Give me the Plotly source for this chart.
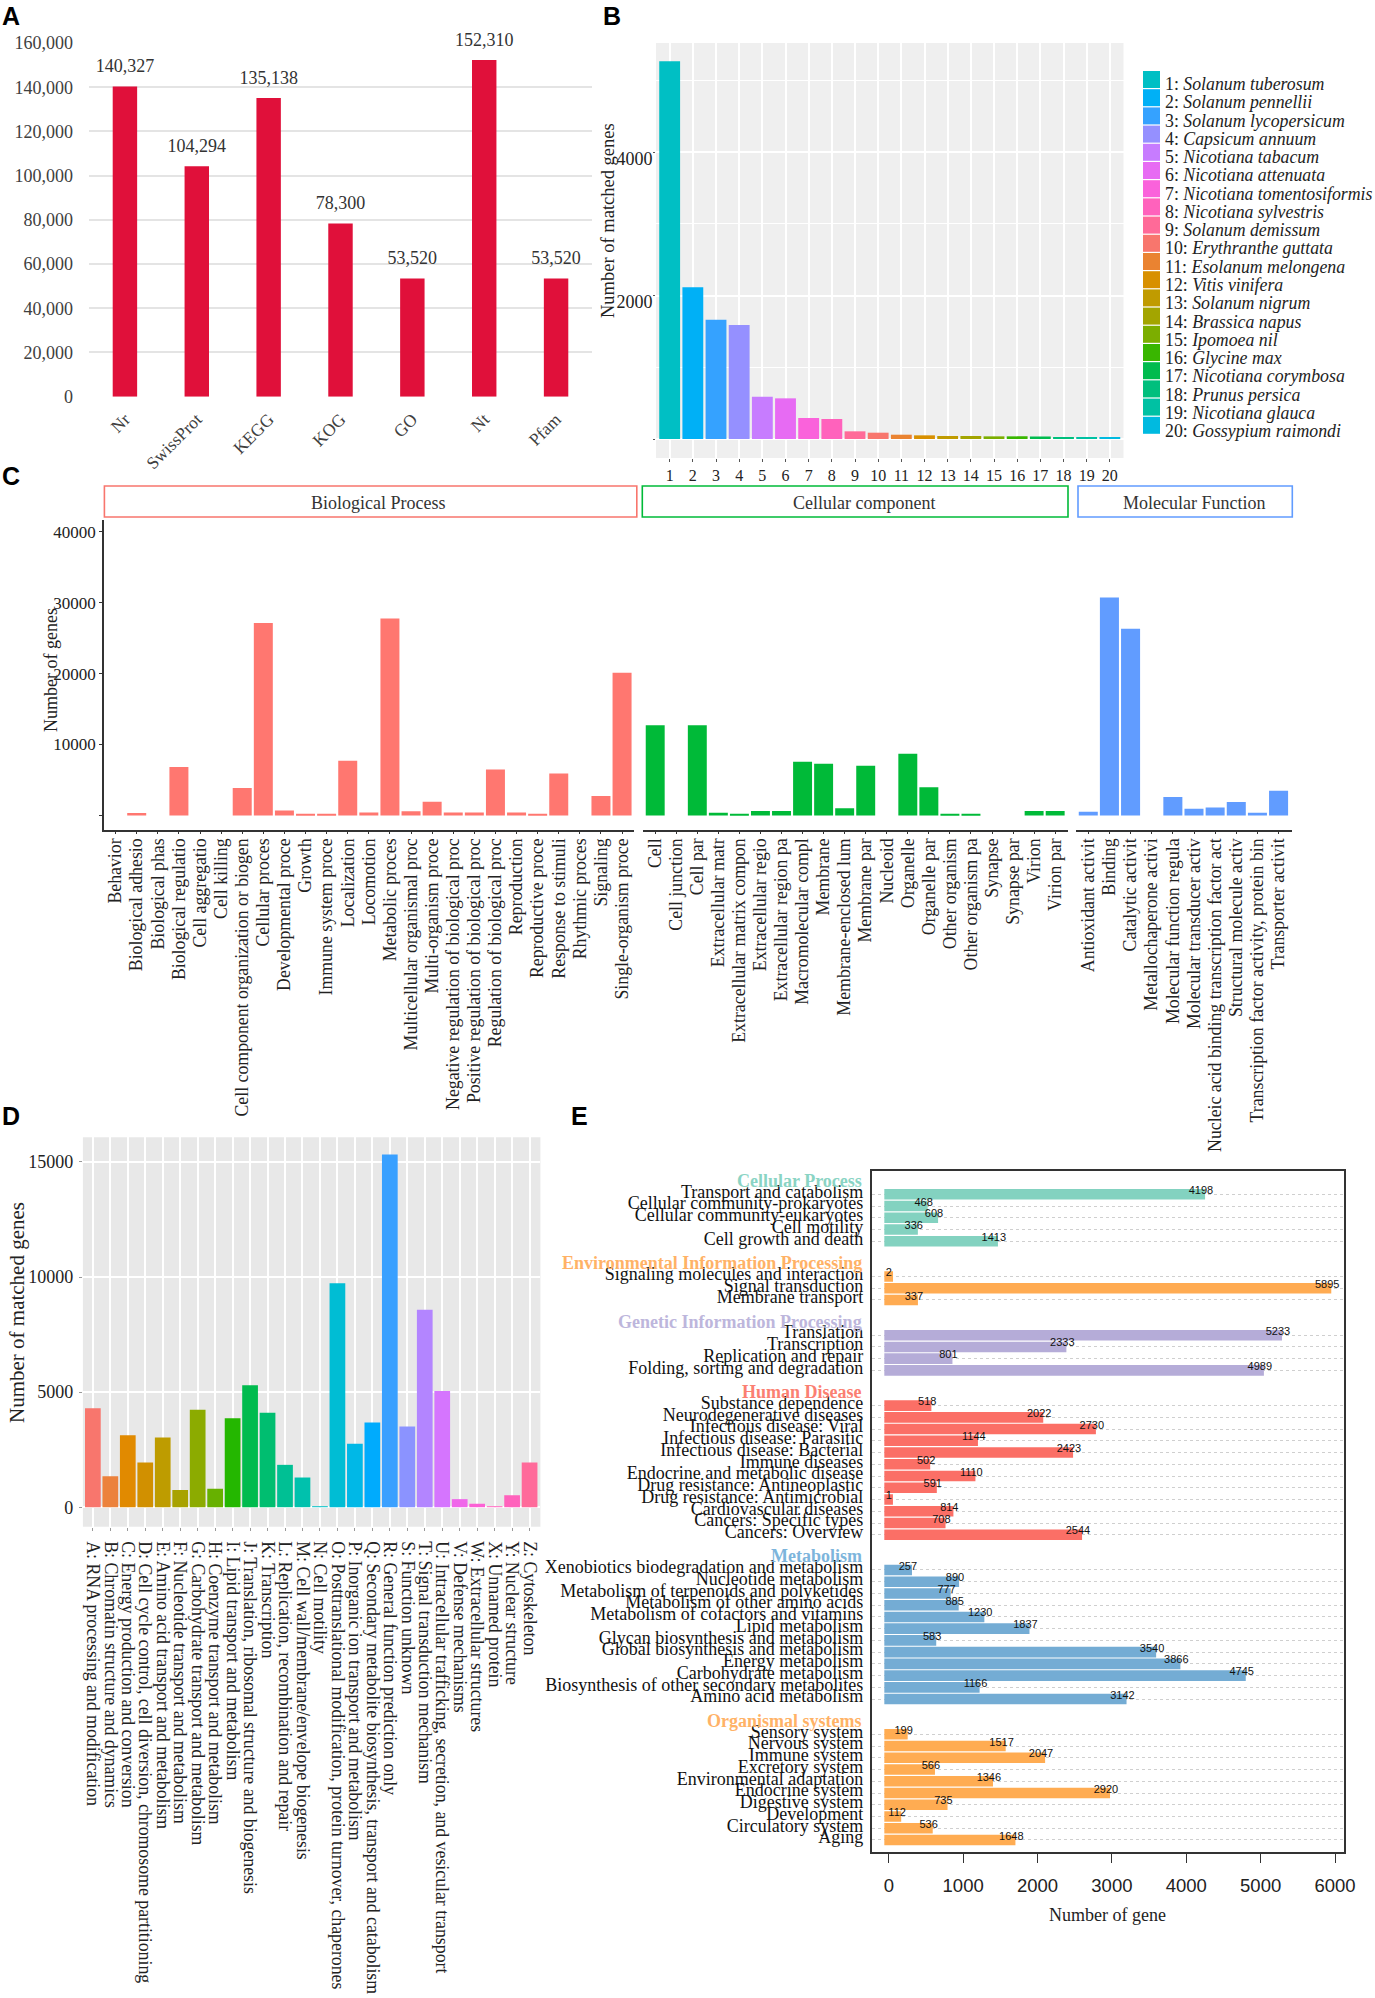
import plotly.graph_objects as go

W, H = 1375, 1998
SERIF = "Liberation Serif"
SANS = "Liberation Sans"

# Panel A
a_names = ["Nr", "SwissProt", "KEGG", "KOG", "GO", "Nt", "Pfam"]
a_values = [140327, 104294, 135138, 78300, 53520, 152310, 53520]

# Panel B
b_species = ["Solanum tuberosum", "Solanum pennellii", "Solanum lycopersicum", "Capsicum annuum",
             "Nicotiana tabacum", "Nicotiana attenuata", "Nicotiana tomentosiformis", "Nicotiana sylvestris",
             "Solanum demissum", "Erythranthe guttata", "Esolanum melongena", "Vitis vinifera",
             "Solanum nigrum", "Brassica napus", "Ipomoea nil", "Glycine max",
             "Nicotiana corymbosa", "Prunus persica", "Nicotiana glauca", "Gossypium raimondi"]
b_values = [5267, 2116, 1664, 1590, 590, 567, 293, 279, 107, 88, 60, 51, 42, 42, 37, 37, 35, 28, 28, 26]
b_colors = ["#00BFC4", "#00B0F6", "#35A2FF", "#9590FF", "#C77CFF", "#E76BF3", "#FA62DB", "#FF62BC",
            "#FF6A98", "#F8766D", "#EA8331", "#D89000", "#C09B00", "#A3A500", "#7CAE00", "#39B600",
            "#00BB4E", "#00BF7D", "#00C1A3", "#00BAE0"]

# Panel C (labels are cut off in the source figure)
bp_names = ["Behavior", "Biological adhesio", "Biological phas", "Biological regulatio", "Cell aggregatio",
            "Cell killing", "Cell component organization or biogen", "Cellular proces", "Developmental proce",
            "Growth", "Immune system proce", "Localization", "Locomotion", "Metabolic proces",
            "Multicellular organismal proc", "Multi-organism proce", "Negative regulation of biological proc",
            "Positive regulation of biological proc", "Regulation of biological proc", "Reproduction",
            "Reproductive proce", "Response to stimuli", "Rhythmic proces", "Signaling", "Single-organism proce"]
bp_values = [0, 350, 0, 6840, 0, 0, 3860, 27130, 700, 120, 230, 7720, 410, 27780, 580, 1930, 410, 410,
             6490, 410, 230, 5900, 0, 2750, 20120]
cc_names = ["Cell", "Cell junction", "Cell par", "Extracellular matr", "Extracellular matrix compon",
            "Extracellular regio", "Extracellular region pa", "Macromolecular compl", "Membrane",
            "Membrane-enclosed lum", "Membrane par", "Nucleoid", "Organelle", "Organelle par", "Other organism",
            "Other organism pa", "Synapse", "Synapse par", "Virion", "Virion par"]
cc_values = [12720, 0, 12720, 380, 190, 630, 630, 7560, 7300, 1010, 6990, 0, 8690, 3970, 130, 130, 0, 0, 630, 630]
mf_names = ["Antioxidant activit", "Binding", "Catalytic activit", "Metallochaperone activi",
            "Molecular function regula", "Molecular transducer activ", "Nucleic acid binding transcription factor act",
            "Structural molecule activ", "Transcription factor activity, protein bin", "Transporter activit"]
mf_values = [500, 30730, 26320, 0, 2580, 940, 1130, 1890, 380, 3460]

# Panel D
d_names = ["A: RNA processing and modification", "B: Chromatin structure and dynamics",
           "C: Energy production and conversion", "D: Cell cycle control, cell diversion, chromosome partitioning",
           "E: Amino acid transport and metabolism", "F: Nucleotide transport and metabolism",
           "G: Carbohydrate transport and metabolism", "H: Coenzyme transport and metabolism",
           "I: Lipid transport and metabolism", "J: Translation, ribosomal structure and biogenesis",
           "K: Transcription", "L: Replication, recombination and repair",
           "M: Cell wall/membrane/envelope biogenesis", "N: Cell motility",
           "O: Posttranslational modification, protein turnover, chaperones",
           "P: Inorganic ion transport and metabolism", "Q: Secondary metabolite biosynthesis, transport and catabolism",
           "R: General function prediction only", "S: Function unknown", "T: Signal transduction mechanism",
           "U: Intracellular trafficking, secretion, and vesicular transport", "V: Defense mechanisms",
           "W: Extracellular structures", "X: Unnamed protein", "Y: Nuclear structure", "Z: Cytoskeleton"]
d_values = [4300, 1340, 3130, 1940, 3030, 750, 4230, 800, 3860, 5300, 4100, 1840, 1290, 30, 9730, 2760,
            3680, 15320, 3510, 8580, 5050, 350, 150, 5, 520, 1940]
d_colors = ["#F8766D", "#EC823C", "#E18A00", "#D19000", "#BE9C00", "#A8A200", "#8CAB00", "#67B100", "#24B700",
            "#00BB4E", "#00BE70", "#00C094", "#00C1AD", "#00BFC4", "#00BDD4", "#00B8E7", "#00ABFD", "#39A0FF",
            "#8B93FF", "#B385FF", "#D575FE", "#F066EA", "#FC61D5", "#FF65BF", "#FF62BC", "#FF6A9A"]

# Panel E
e_groups = ["Cellular Process", "Environmental Information Processing", "Genetic Information Processing",
            "Human Disease", "Metabolism", "Organismal systems"]
e_group_colors = ["#8AD4C4", "#FFB266", "#BDB6DC", "#FB7F72", "#7DB5DC", "#FFB266"]
e_bar_colors = ["#83D2C0", "#FFAB52", "#B5ACD8", "#FB6F66", "#74ACD4", "#FFAC52"]
e_names = [
    ["Transport and catabolism", "Cellular community-prokaryotes", "Cellular community-eukaryotes",
     "Cell motility", "Cell growth and death"],
    ["Signaling molecules and interaction", "Signal transduction", "Membrane transport"],
    ["Translation", "Transcription", "Replication and repair", "Folding, sorting and degradation"],
    ["Substance dependence", "Neurodegenerative diseases", "Infectious disease: Viral",
     "Infectious disease: Parasitic", "Infectious disease: Bacterial", "Immune diseases",
     "Endocrine and metabolic disease", "Drug resistance: Antineoplastic", "Drug resistance: Antimicrobial",
     "Cardiovascular diseases", "Cancers: Specific types", "Cancers: Overview"],
    ["Xenobiotics biodegradation and metabolism", "Nucleotide metabolism",
     "Metabolism of terpenoids and polyketides", "Metabolism of other amino acids",
     "Metabolism of cofactors and vitamins", "Lipid metabolism", "Glycan biosynthesis and metabolism",
     "Global biosynthesis and metabolism", "Energy metabolism", "Carbohydrate metabolism",
     "Biosynthesis of other secondary metabolites", "Amino acid metabolism"],
    ["Sensory system", "Nervous system", "Immune system", "Excretory system", "Environmental adaptation",
     "Endocrine system", "Digestive system", "Development", "Circulatory system", "Aging"],
]
e_values = [
    [4198, 468, 608, 336, 1413],
    [2, 5895, 337],
    [5233, 2333, 801, 4989],
    [518, 2022, 2730, 1144, 2423, 502, 1110, 591, 1, 814, 708, 2544],
    [257, 890, 777, 885, 1230, 1837, 583, 3540, 3866, 4745, 1166, 3142],
    [199, 1517, 2047, 566, 1346, 2920, 735, 112, 536, 1648],
]


def px(x):
    return x / W


def py(y):
    return 1 - y / H


def font(size, color="#222222", family=SERIF):
    return dict(family=family, size=size, color=color)


def note(x, y, text, size=17, color="#222222", family=SERIF, xanchor="center", angle=0):
    return dict(x=px(x), y=py(y), xref="paper", yref="paper", text=text, showarrow=False, xanchor=xanchor,
                yanchor="middle", textangle=angle, font=font(size, color, family), borderpad=0, borderwidth=0)


fig = go.Figure()
annotations = []
shapes = []

# A
fig.add_trace(go.Bar(x=a_names, y=a_values, width=0.34, marker=dict(color="#E0103A", line_width=0),
                     xaxis="x", yaxis="y"))
# invisible markers keep the value labels a little above the bars
fig.add_trace(go.Scatter(x=a_names, y=a_values, mode="markers+text", marker=dict(size=14, opacity=0),
                         texttemplate="%{y:,}", textposition="top center", cliponaxis=False,
                         textfont=font(18, "#333333"), xaxis="x", yaxis="y"))
# B
fig.add_trace(go.Bar(x=list(range(1, 21)), y=b_values, width=0.9, marker=dict(color=b_colors, line_width=0),
                     xaxis="x2", yaxis="y2"))
# C
fig.add_trace(go.Bar(x=bp_names, y=bp_values, width=0.9, marker=dict(color="#FF7770", line_width=0),
                     xaxis="x3", yaxis="y3"))
fig.add_trace(go.Bar(x=cc_names, y=cc_values, width=0.9, marker=dict(color="#00BA38", line_width=0),
                     xaxis="x4", yaxis="y4"))
fig.add_trace(go.Bar(x=mf_names, y=mf_values, width=0.9, marker=dict(color="#619CFF", line_width=0),
                     xaxis="x5", yaxis="y5"))
# D
fig.add_trace(go.Bar(x=d_names, y=d_values, width=0.9, marker=dict(color=d_colors, line_width=0),
                     xaxis="x6", yaxis="y6"))

# E: rows run on one index, each group leaves two empty rows before the next one
rows, labels, vals, cols = [], [], [], []
row = 0
for g, group in enumerate(e_groups):
    annotations.append(dict(x=px(864), y=row - 1.15, xref="paper", yref="y7", text="<b>%s</b>" % group,
                            showarrow=False, xanchor="right", yanchor="middle",
                            font=font(18, e_group_colors[g])))
    for name, v in zip(e_names[g], e_values[g]):
        rows.append(row)
        labels.append(name)
        vals.append(v)
        cols.append(e_bar_colors[g])
        row += 1
    row += 2

# the source bars start left of zero and run a little past their value
E_BAR_START = -60
E_BAR_PAD = 55
fig.add_trace(go.Bar(y=rows, x=[v - E_BAR_START + E_BAR_PAD for v in vals], base=E_BAR_START, orientation="h",
                     width=0.9, marker=dict(color=cols, line_width=0), xaxis="x7", yaxis="y7"))
fig.add_trace(go.Scatter(y=[r - 0.27 for r in rows], x=vals, text=vals, mode="text", cliponaxis=False,
                         textfont=font(11, "#111111", SANS), xaxis="x7", yaxis="y7"))

# panel backgrounds, strips and the legend of B
for box, fill in [((656, 43, 1123.5, 458), "#EFEFEF"), ((82.9, 1137.2, 540.4, 1526.7), "#E8E8E8")]:
    shapes.append(dict(type="rect", xref="paper", yref="paper", x0=px(box[0]), x1=px(box[2]), y0=py(box[3]),
                       y1=py(box[1]), fillcolor=fill, line_width=0, layer="below"))

strips = [("Biological Process", 104.4, 636.8, "#F8766D", 378),
          ("Cellular component", 642.3, 1068, "#00BA38", 864),
          ("Molecular Function", 1078, 1292.3, "#619CFF", 1193.7)]
for name, x0, x1, color, tx in strips:
    shapes.append(dict(type="rect", xref="paper", yref="paper", x0=px(x0), x1=px(x1), y0=py(517), y1=py(486),
                       line=dict(color=color, width=1.6), fillcolor="rgba(0,0,0,0)"))
    annotations.append(note(tx, 503, name, 18, "#333333"))

for i, species in enumerate(b_species):
    top = 71 + i * 18.2
    shapes.append(dict(type="rect", xref="paper", yref="paper", x0=px(1143), x1=px(1160), y0=py(top + 17),
                       y1=py(top), fillcolor=b_colors[i], line_width=0))
    annotations.append(note(1165, 84 + i * 18.27, "%d: <i>%s</i>" % (i + 1, species), 17.8, "#222222",
                            xanchor="left"))

# axis titles and panel letters
annotations.append(note(608, 221, "Number of matched genes", 18.5, angle=-90))
annotations.append(note(50.5, 670.5, "Number of genes", 18, angle=-90))
annotations.append(note(17, 1313, "Number of matched genes", 21, angle=-90))
annotations.append(note(1107.6, 1915, "Number of gene", 18))
for letter, x, y in [("A", 11, 16), ("B", 612, 16), ("C", 11, 476), ("D", 11, 1116), ("E", 579, 1116)]:
    annotations.append(note(x, y, "<b>%s</b>" % letter, 25, "#000000", SANS))


def dom_x(x0, x1):
    return [px(x0), px(x1)]


def dom_y(top, bottom):
    return [py(bottom), py(top)]


fig.update_layout(
    width=W, height=H, margin=dict(l=0, r=0, t=0, b=0), showlegend=False, paper_bgcolor="white",
    plot_bgcolor="rgba(0,0,0,0)", annotations=annotations, shapes=shapes,
    # A
    xaxis=dict(domain=dom_x(89, 592), range=[-0.5, 6.5], anchor="y", tickangle=-45, showgrid=False, zeroline=False,
               ticks="", ticklabelstandoff=8, tickfont=font(17.5, "#404040")),
    yaxis=dict(domain=dom_y(43, 396.7), range=[0, 160000], anchor="x", tickvals=list(range(0, 160001, 20000)),
               tickformat=",", ticks="", gridcolor="#E4E4E4", gridwidth=1.5, zeroline=False, ticklabelstandoff=15,
               tickfont=font(18, "#404040")),
    # B
    xaxis2=dict(domain=dom_x(656, 1123.5), range=[0.41, 20.59], anchor="y2", tickvals=list(range(1, 21)),
                tickangle=0, gridcolor="white", gridwidth=1.5, zeroline=False, ticks="outside", ticklen=3,
                tickcolor="#555555", ticklabelstandoff=0, tickfont=font(16)),
    yaxis2=dict(domain=dom_y(43, 458), range=[-265, 5523], anchor="x2", tickvals=[0, 2000, 4000],
                ticktext=["", "2000", "4000"], gridcolor="white", gridwidth=1.5, zeroline=False,
                minor=dict(tickvals=[1000, 3000, 5000], showgrid=True, gridcolor="white", gridwidth=0.8, ticks=""),
                ticks="outside", ticklen=2, tickcolor="#555555", ticklabelshift=6, ticklabelstandoff=-3,
                tickfont=font(18)),
    # C
    xaxis3=dict(domain=dom_x(104, 634.3), range=[-0.55, 24.58], anchor="y3", tickangle=-90, dtick=1, showgrid=False,
                zeroline=False, showline=True, linecolor="#333333", linewidth=1.5, ticks="outside", ticklen=3,
                tickcolor="#333333", ticklabelstandoff=-3, tickfont=font(17.8)),
    yaxis3=dict(domain=dom_y(519.8, 829.5), range=[-1990, 41693], anchor="x3", tickvals=[0, 10000, 20000, 30000, 40000],
                ticktext=["", "10000", "20000", "30000", "40000"], showgrid=False, zeroline=False, showline=True,
                linecolor="#333333", linewidth=1.5, ticks="outside", ticklen=3, tickcolor="#333333",
                tickfont=font(17)),
    xaxis4=dict(domain=dom_x(643, 1067.8), range=[-0.58, 19.6], anchor="y4", tickangle=-90, dtick=1, showgrid=False,
                zeroline=False, showline=True, linecolor="#333333", linewidth=1.5, ticks="outside", ticklen=3,
                tickcolor="#333333", ticklabelstandoff=-3, tickfont=font(17.8)),
    yaxis4=dict(domain=dom_y(519.8, 829.5), range=[-1990, 41693], anchor="x4", visible=False),
    xaxis5=dict(domain=dom_x(1075.8, 1291.9), range=[-0.59, 9.63], anchor="y5", tickangle=-90, dtick=1, showgrid=False,
                zeroline=False, showline=True, linecolor="#333333", linewidth=1.5, ticks="outside", ticklen=3,
                tickcolor="#333333", ticklabelstandoff=-3, tickfont=font(17.8)),
    yaxis5=dict(domain=dom_y(519.8, 829.5), range=[-1990, 41693], anchor="x5", visible=False),
    # D
    xaxis6=dict(domain=dom_x(82.9, 540.4), range=[-0.57, 25.62], anchor="y6", tickangle=90, dtick=1,
                gridcolor="white", gridwidth=1.5, zeroline=False, ticks="outside", ticklen=3, tickcolor="#999999",
                ticklabelstandoff=7, tickfont=font(17.8)),
    yaxis6=dict(domain=dom_y(1137.2, 1526.7), range=[-847, 16073], anchor="x6", tickvals=[0, 5000, 10000, 15000],
                tickformat="d", gridcolor="white", gridwidth=1.5, zeroline=False, ticks="outside", ticklen=3,
                tickcolor="#999999", ticklabelstandoff=2, tickfont=font(18)),
    # E
    xaxis7=dict(domain=dom_x(871.6, 1344), range=[-231, 6121], anchor="y7", tickvals=list(range(0, 6001, 1000)),
                showgrid=False, zeroline=False, ticks="outside", ticklen=10, tickcolor="#333333", tickwidth=1.2,
                showline=True, linecolor="#333333", linewidth=1.5, mirror=True, ticklabelstandoff=6,
                tickfont=font(18.5, "#222222", SANS)),
    yaxis7=dict(domain=dom_y(1170.7, 1851.7), range=[56.0, -2.01], anchor="x7", tickvals=rows, ticktext=labels,
                gridcolor="#CFCFCF", griddash="dot", gridwidth=1, zeroline=False, ticks="", showline=True,
                linecolor="#333333", linewidth=1.5, mirror=True, ticklabelstandoff=3, ticklabelshift=3,
                tickfont=font(18, "#111111")),
)
# the default template would grow the margins for the long tick labels
fig.update_xaxes(automargin=False)
fig.update_yaxes(automargin=False)

fig.write_html("out.html", config={"displayModeBar": False}, post_script="document.body.style.margin='0';")
